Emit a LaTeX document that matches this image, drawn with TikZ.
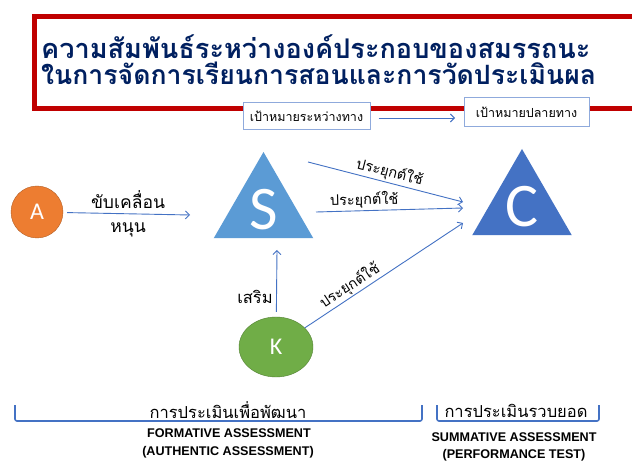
\documentclass[tikz,border=0pt]{standalone}
\usepackage{fontspec}
\setmainfont{Liberation Sans}
\newfontfamily\thaifont[Script=Thai]{Loma}
\newfontfamily\letterfont{Carlito}
\usetikzlibrary{shapes.geometric,arrows.meta}
\definecolor{frameRed}{RGB}{192,0,0}
\definecolor{titleBlue}{RGB}{0,32,96}
\definecolor{lineBlue}{RGB}{68,114,196}
\definecolor{boxBlue}{RGB}{143,170,220}
\definecolor{skillBlue}{RGB}{91,155,213}
\definecolor{compBlue}{RGB}{68,114,196}
\definecolor{attOrange}{RGB}{237,125,49}
\definecolor{knowGreen}{RGB}{112,173,71}
\begin{document}
\begin{tikzpicture}[x=1pt,y=-1pt]
			\tikzstyle{arr}=[draw=lineBlue, line width=0.9pt, -{Straight Barb[length=4pt,width=8pt]}]
			\tikzstyle{goal}=[draw=boxBlue, fill=white, line width=1pt, inner sep=0pt, font=\thaifont\fontsize{12.5}{14}\selectfont]
			\tikzstyle{lbl}=[font=\thaifont\fontsize{16.5}{18}\selectfont, inner sep=1pt]
			\tikzstyle{apply}=[font=\thaifont\fontsize{14.5}{16}\selectfont, inner sep=1.5pt, pos=0.5, above, sloped]
			\tikzstyle{tri}=[regular polygon, regular polygon sides=3, minimum size=112pt, inner sep=0pt, text=white, font=\letterfont\fontsize{62}{62}\selectfont]
			\tikzstyle{eng}=[font=\bfseries\fontsize{12.6}{14}\selectfont, inner sep=0pt]
			\tikzstyle{brace}=[draw=lineBlue, line width=1.6pt, rounded corners=2pt]
			\useasboundingbox (0,0) rectangle (632,462);
			\fill [white] (0,0) rectangle (632,462);
			\draw [frameRed, line width=5pt] (640,16.5) -- (34.5,16.5) -- (34.5,108.5) -- (640,108.5);
			\node [anchor=west, text=titleBlue, inner sep=0pt, font=\thaifont\bfseries\fontsize{27.1}{30}\selectfont] (title1) at (41,47) {ความสัมพันธ์ระหว่างองค์ประกอบของสมรรถนะ};
			\node [anchor=west, text=titleBlue, inner sep=0pt, font=\thaifont\bfseries\fontsize{26.6}{30}\selectfont] (title2) at (41,73) {ในการจัดการเรียนการสอนและการวัดประเมินผล};
			\node [goal, minimum width=127pt, minimum height=27pt] (midGoal) at (306.5,116.5) {เป้าหมายระหว่างทาง};
			\node [goal, minimum width=125pt, minimum height=29pt] (endGoal) at (526.5,112.5) {เป้าหมายปลายทาง};
			\draw [arr] (midGoal.east) ++(8,1.5) coordinate (goalOut) -- (455,118) coordinate (goalIn);
			\node [tri, fill=skillBlue] (S) at (263.5,209.5) {S};
			\node [tri, fill=compBlue] (C) at (522,206.5) {C};
			\node [circle, minimum size=52pt, inner sep=0pt, fill=attOrange, draw=attOrange!75!black, text=white, font=\letterfont\fontsize{24}{24}\selectfont] (A) at (37,212) {A};
			\node [ellipse, minimum width=74pt, minimum height=60pt, inner sep=0pt, fill=knowGreen, draw=knowGreen!75!black, text=white, font=\letterfont\fontsize{24}{24}\selectfont] (K) at (276,347) {K};
			\coordinate (sLeft) at (190,215);
			\coordinate (sBottom) at (277,250);
			\coordinate (sTop) at (308,162);
			\coordinate (sRight) at (316,212);
			\coordinate (cTop) at (463,202);
			\coordinate (cMid) at (463,208);
			\coordinate (cLow) at (463,223);
			\draw [arr, shorten <=4pt] (A) -- (sLeft);
			\node [lbl, font=\thaifont\fontsize{17.5}{19}\selectfont] (drive) at (128,200) {ขับเคลื่อน};
			\node [lbl, font=\thaifont\fontsize{17.5}{19}\selectfont] (support) at (128,230) {หนุน};
			\draw [arr, shorten <=5pt] (K) -- (sBottom);
			\node [lbl] (reinforce) at (255,297) {เสริม};
			\draw [arr] (sTop) -- node [apply, pos=0.51] (apply1) {ประยุกต์ใช้} (cTop);
			\draw [arr] (sRight) -- node [apply, pos=0.33] (apply2) {ประยุกต์ใช้} (cMid);
			\draw [arr] (K) -- node [apply, pos=0.32] (apply3) {ประยุกต์ใช้} (cLow);
			\draw [brace] (15,405) -- (15,421) -- (422,421) -- (422,405);
			\draw [brace] (437,405) -- (437,421) -- (599,421) -- (599,405);
			\node [lbl] (formTh) at (228,410) {การประเมินเพื่อพัฒนา};
			\node [eng] (formEn) at (229,433) {FORMATIVE ASSESSMENT};
			\node [eng] (formSub) at (228,452) {(AUTHENTIC ASSESSMENT)};
			\node [lbl] (sumTh) at (516,411) {การประเมินรวบยอด};
			\node [eng] (sumEn) at (514,437) {SUMMATIVE ASSESSMENT};
			\node [eng] (sumSub) at (514,455) {(PERFORMANCE TEST)};
\end{tikzpicture}
\end{document}
